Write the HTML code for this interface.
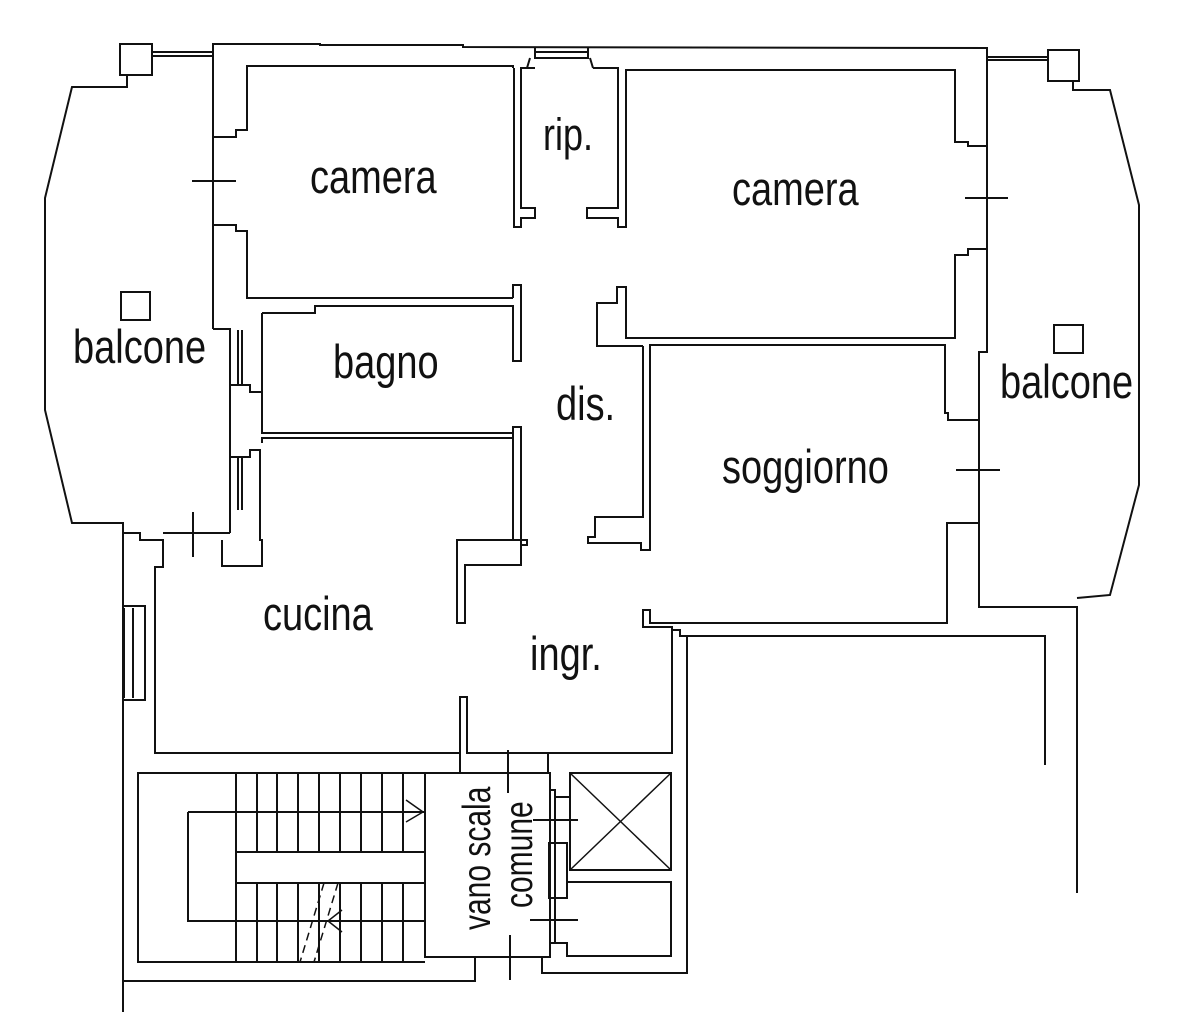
<!DOCTYPE html>
<html><head><meta charset="utf-8"><style>
html,body{margin:0;padding:0;background:#fff;}
svg{display:block;}
text{font-family:"Liberation Sans",Arial,sans-serif;fill:#111;}
</style></head><body>
<svg width="1200" height="1012" viewBox="0 0 1200 1012" xmlns="http://www.w3.org/2000/svg">
<g fill="none" stroke="#111" stroke-width="2">
<polyline points="213,329 213,44 320,44 320,45 463,45 463,47 987,48 987,249"/>
<polyline points="535,47 535,58 588,58 588,47"/>
<line x1="535" y1="52" x2="588" y2="52"/>
<polyline points="527,68 530,58"/><polyline points="593,68 590,58"/>
<rect x="120" y="44" width="32" height="31"/>
<line x1="152" y1="52" x2="213" y2="52"/><line x1="152" y1="56" x2="213" y2="56"/>
<polyline points="127,75 127,87 72,87 45,198 45,410 72,523 123,523 123,1012"/>
<polyline points="513,68 513,66 247,66 247,130 236,130 236,137 213,137"/>
<line x1="192" y1="181" x2="236" y2="181"/>
<polyline points="213,225 236,225 236,231 247,231 247,298 513,298"/>
<polyline points="213,329 230,329 230,533"/>
<polyline points="514,68 514,227 521,227 521,218 535,218 535,208 521,208 521,68 535,68"/>
<polyline points="593,68 618,68 618,208 587,208 587,218 618,218 618,227 626,227 626,70 955,70 955,142 968,142 968,146 987,146"/>
<line x1="965" y1="198" x2="1008" y2="198"/>
<polyline points="987,249 968,249 968,255 955,255 955,338 626,338 626,287 617,287 617,303 597,303 597,346 643,346"/>
<polyline points="262,313 315,313 315,306 513,306 513,361 521,361 521,285 513,285 513,298"/>
<polyline points="262,313 262,433 513,433 513,540 527,540 527,545 521,545 521,427 513,427 513,438 262,438 262,443"/>
<line x1="238" y1="330" x2="238" y2="385"/><line x1="242" y1="330" x2="242" y2="385"/>
<line x1="238" y1="457" x2="238" y2="510"/><line x1="242" y1="457" x2="242" y2="510"/>
<polyline points="230,385 250,385 250,392 262,392"/>
<polyline points="230,457 250,457 250,450 260,450 260,540 262,540 262,566 222,566 222,540"/>
<polyline points="122,533 140,533 140,540 163,540 163,567 155,567 155,753 460,753 460,697 467,697 467,753 548,753"/>
<polyline points="163,533 230,533"/>
<line x1="193" y1="512" x2="193" y2="557"/>
<line x1="124" y1="608" x2="124" y2="698"/><line x1="133" y1="608" x2="133" y2="698"/>
<polyline points="123,606 145,606 145,700 123,700"/>
<polyline points="521,545 521,565 465,565 465,623 457,623 457,540 521,540"/>
<polyline points="643,346 643,517 595,517 595,537 588,537 588,543 641,543 641,550 650,550 650,345 945,345 945,413 948,413 948,420 979,420"/>
<line x1="956" y1="470" x2="1000" y2="470"/>
<polyline points="979,523 947,523 947,623 650,623 650,610 643,610 643,627 672,627 672,753 548,753 548,773"/>
<polyline points="672,630 680,630 680,636 1045,636 1045,765"/>
<polyline points="987,249 987,352 979,352 979,607 1077,607 1077,893"/>
<line x1="987" y1="57" x2="1048" y2="57"/><line x1="987" y1="60" x2="1048" y2="60"/>
<rect x="1048" y="50" width="31" height="31"/>
<polyline points="1073,81 1073,90 1110,90 1139,205 1139,485 1110,595 1077,598"/>
<rect x="121" y="292" width="29" height="28"/>
<rect x="1054" y="325" width="29" height="28"/>
<polyline points="687,636 687,973 542,973 542,957"/>
<polyline points="460,753 460,773 138,773 138,962 425,962"/>
<polyline points="123,1012 123,981 475,981 475,957"/>
<rect x="425" y="773" width="125" height="184"/>
<polyline points="188,812 425,812"/>
<polyline points="236,852 425,852"/>
<polyline points="236,883 425,883"/>
<polyline points="188,812 188,921 425,921"/>
<line x1="236" y1="773" x2="236" y2="962"/>
<g>
<line x1="257" y1="773" x2="257" y2="852"/><line x1="277" y1="773" x2="277" y2="852"/><line x1="298" y1="773" x2="298" y2="852"/><line x1="319" y1="773" x2="319" y2="852"/><line x1="340" y1="773" x2="340" y2="852"/><line x1="361" y1="773" x2="361" y2="852"/><line x1="382" y1="773" x2="382" y2="852"/><line x1="403" y1="773" x2="403" y2="852"/>
<line x1="257" y1="883" x2="257" y2="962"/><line x1="277" y1="883" x2="277" y2="962"/><line x1="298" y1="883" x2="298" y2="962"/><line x1="319" y1="883" x2="319" y2="962"/><line x1="340" y1="883" x2="340" y2="962"/><line x1="361" y1="883" x2="361" y2="962"/><line x1="382" y1="883" x2="382" y2="962"/><line x1="403" y1="883" x2="403" y2="962"/>
</g>
<polyline points="406,800 423,812 406,822" stroke-width="1.5"/>
<line x1="324" y1="883" x2="300" y2="962" stroke-dasharray="8,5" stroke-width="1.5"/>
<line x1="338" y1="883" x2="314" y2="962" stroke-dasharray="8,5" stroke-width="1.5"/>
<polyline points="342,910 328,921 342,932" stroke-width="1.5"/>
<polyline points="550,773 550,790 555,790 555,797 570,797"/>
<line x1="555" y1="797" x2="555" y2="943"/>
<rect x="549" y="843" width="18" height="55"/>
<polyline points="550,957 550,943 567,943 567,957"/>
<line x1="533" y1="820" x2="578" y2="820"/>
<line x1="530" y1="920" x2="578" y2="920"/>
<line x1="508" y1="750" x2="508" y2="793"/>
<line x1="510" y1="935" x2="510" y2="980"/>
<rect x="570" y="773" width="101" height="97"/>
<line x1="570" y1="773" x2="671" y2="870" stroke-width="1.5"/>
<line x1="671" y1="773" x2="570" y2="870" stroke-width="1.5"/>
<polyline points="567,882 671,882 671,956 567,956"/>
</g>
<g font-size="38">
<text transform="translate(310,193) scale(1,1.25)">camera</text>
<text transform="translate(543,150) scale(1,1.25)" font-size="36">rip.</text>
<text transform="translate(732,205) scale(1,1.25)">camera</text>
<text transform="translate(73,363) scale(1,1.25)">balcone</text>
<text transform="translate(333,378) scale(1,1.25)">bagno</text>
<text transform="translate(556,420) scale(1,1.25)">dis.</text>
<text transform="translate(1000,398) scale(1,1.25)">balcone</text>
<text transform="translate(722,483) scale(1,1.25)">soggiorno</text>
<text transform="translate(263,630) scale(1,1.25)">cucina</text>
<text transform="translate(530,670) scale(1,1.25)">ingr.</text>
</g>
<text transform="translate(490,930) rotate(-90) scale(1,1.3)" font-size="30">vano scala</text>
<text transform="translate(532,908) rotate(-90) scale(1,1.3)" font-size="30">comune</text>
</svg>
</body></html>
